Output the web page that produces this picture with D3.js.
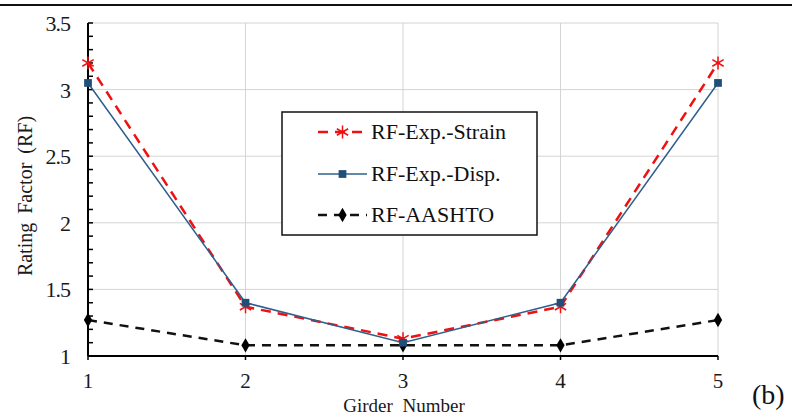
<!DOCTYPE html>
<html>
<head>
<meta charset="utf-8">
<script src="https://cdn.jsdelivr.net/npm/d3@7"></script>
<style>
  body { margin: 0; background: #fff; }
  svg { display: block; font-family: 'Liberation Serif', 'DejaVu Serif', serif; }
</style>
</head>
<body>
<div id="chart"></div>
<script>
// data
const girders = [1, 2, 3, 4, 5];
const rfStrain = [3.2, 1.37, 1.13, 1.37, 3.2];
const rfDisp = [3.05, 1.4, 1.1, 1.4, 3.05];
const rfAashto = [1.27, 1.08, 1.08, 1.08, 1.27];
const yTicks = [1, 1.5, 2, 2.5, 3, 3.5];
const yTickLabels = ['1', '1.5', '2', '2.5', '3', '3.5'];
const seriesNames = ['RF-Exp.-Strain', 'RF-Exp.-Disp.', 'RF-AASHTO'];

const width = 792;
const height = 417;
const margin = { top: 23, right: 74, bottom: 61, left: 88 };

const svg = d3.select('#chart').append('svg')
  .attr('width', width)
  .attr('height', height);

// header rule from the page above the figure
svg.append('line')
  .attr('x1', 0).attr('x2', width)
  .attr('y1', 5).attr('y2', 5)
  .attr('stroke', '#111')
  .attr('stroke-width', 2);

const x = d3.scaleLinear()
  .domain([1, 5])
  .range([margin.left, width - margin.right]);

const y = d3.scaleLinear()
  .domain([1, 3.5])
  .range([height - margin.bottom, margin.top]);

// grid
const grid = svg.append('g').attr('stroke', '#d4d4d4').attr('stroke-width', 1);
grid.selectAll('.vg')
  .data(girders.slice(1))
  .enter()
  .append('line')
  .attr('x1', (d) => x(d)).attr('x2', (d) => x(d))
  .attr('y1', y(1)).attr('y2', y(3.5));
grid.selectAll('.hg')
  .data(yTicks.slice(1))
  .enter()
  .append('line')
  .attr('x1', x(1)).attr('x2', x(5))
  .attr('y1', (d) => y(d)).attr('y2', (d) => y(d));

// y axis with inside minor ticks
const minorY = d3.range(10, 36).map((d) => d / 10);
const yAxis = svg.append('g').attr('stroke', '#000');
yAxis.append('line')
  .attr('x1', x(1)).attr('x2', x(1))
  .attr('y1', y(1)).attr('y2', y(3.5))
  .attr('stroke-width', 2);
yAxis.selectAll('.mt')
  .data(minorY)
  .enter()
  .append('line')
  .attr('x1', x(1)).attr('x2', x(1) + 5)
  .attr('y1', (d) => y(d)).attr('y2', (d) => y(d))
  .attr('stroke-width', 1.5);

// x axis
const xAxis = svg.append('g').attr('stroke', '#000');
xAxis.append('line')
  .attr('x1', x(1)).attr('x2', x(5))
  .attr('y1', y(1)).attr('y2', y(1))
  .attr('stroke-width', 2);
xAxis.selectAll('.xt')
  .data(girders)
  .enter()
  .append('line')
  .attr('x1', (d) => x(d)).attr('x2', (d) => x(d))
  .attr('y1', y(1)).attr('y2', y(1) + 4)
  .attr('stroke-width', 1.5);

// tick labels
svg.selectAll('.yl')
  .data(yTicks)
  .enter()
  .append('text')
  .attr('x', x(1) - 18)
  .attr('y', (d) => y(d) + 8)
  .attr('text-anchor', 'end')
  .style('font-size', '22px')
  .style('letter-spacing', '-1px')
  .style('fill', '#1a1a1a')
  .text((d, i) => yTickLabels[i]);

svg.selectAll('.xl')
  .data(girders)
  .enter()
  .append('text')
  .attr('x', (d) => x(d))
  .attr('y', y(1) + 32)
  .attr('text-anchor', 'middle')
  .style('font-size', '21px')
  .style('fill', '#1a1a1a')
  .text((d) => d);

// axis titles
svg.append('text')
  .attr('x', 404)
  .attr('y', 412)
  .attr('text-anchor', 'middle')
  .style('font-size', '19px')
  .style('word-spacing', '5px')
  .style('fill', '#1a1a1a')
  .text('Girder Number');

svg.append('text')
  .attr('transform', 'translate(32,196) rotate(-90)')
  .attr('text-anchor', 'middle')
  .style('font-size', '20px')
  .style('word-spacing', '4px')
  .style('fill', '#1a1a1a')
  .text('Rating Factor (RF)');

svg.append('text')
  .attr('x', 752)
  .attr('y', 404)
  .style('font-size', '28px')
  .style('fill', '#111')
  .text('(b)');

// series
const line = d3.line()
  .x((d, i) => x(girders[i]))
  .y((d) => y(d));

const red = '#f01010';
const blue = '#2f5f8c';
const asterisk = d3.symbol().type(d3.symbolAsterisk).size(120);
const square = d3.symbol().type(d3.symbolSquare).size(60);
const diamond = d3.symbol().type(d3.symbolDiamond).size(60);

function drawSeries(values, color, dash, widthPx, sym, markerFill, markerStroke) {
  svg.append('path')
    .datum(values)
    .attr('d', line)
    .attr('fill', 'none')
    .attr('stroke', color)
    .attr('stroke-width', widthPx)
    .attr('stroke-dasharray', dash);
  svg.selectAll(null)
    .data(values)
    .enter()
    .append('path')
    .attr('transform', (d, i) => `translate(${x(girders[i])},${y(d)})`)
    .attr('d', sym)
    .attr('fill', markerFill)
    .attr('stroke', markerStroke)
    .attr('stroke-width', 1.5);
}

drawSeries(rfAashto, '#111', '9,7', 2.5, diamond, '#000', 'none');
drawSeries(rfStrain, red, '10,7', 2.5, asterisk, 'none', red);
drawSeries(rfDisp, blue, null, 1.5, square, '#1f4e79', 'none');

// legend
const legend = svg.append('g');
legend.append('rect')
  .attr('x', 282).attr('y', 112)
  .attr('width', 255).attr('height', 123)
  .attr('fill', '#fff')
  .attr('stroke', '#111')
  .attr('stroke-width', 1.5);

const legendRows = [
  { name: seriesNames[0], color: red, dash: '10,7', w: 2.5, sym: asterisk, fill: 'none', stroke: red, y: 132 },
  { name: seriesNames[1], color: blue, dash: null, w: 1.5, sym: square, fill: '#1f4e79', stroke: 'none', y: 174 },
  { name: seriesNames[2], color: '#111', dash: '9,7', w: 2.5, sym: diamond, fill: '#000', stroke: 'none', y: 215 },
];

const rows = legend.selectAll('.row')
  .data(legendRows)
  .enter()
  .append('g');

rows.append('line')
  .attr('x1', 318).attr('x2', 367)
  .attr('y1', (d) => d.y).attr('y2', (d) => d.y)
  .attr('stroke', (d) => d.color)
  .attr('stroke-width', (d) => d.w)
  .attr('stroke-dasharray', (d) => d.dash);

rows.append('path')
  .attr('transform', (d) => `translate(342.5,${d.y})`)
  .attr('d', (d) => d.sym())
  .attr('fill', (d) => d.fill)
  .attr('stroke', (d) => d.stroke)
  .attr('stroke-width', 1.5);

rows.append('text')
  .attr('x', 371)
  .attr('y', (d) => d.y + 7)
  .style('font-size', '22px')
  .style('fill', '#111')
  .text((d) => d.name);
</script>
</body>
</html>
